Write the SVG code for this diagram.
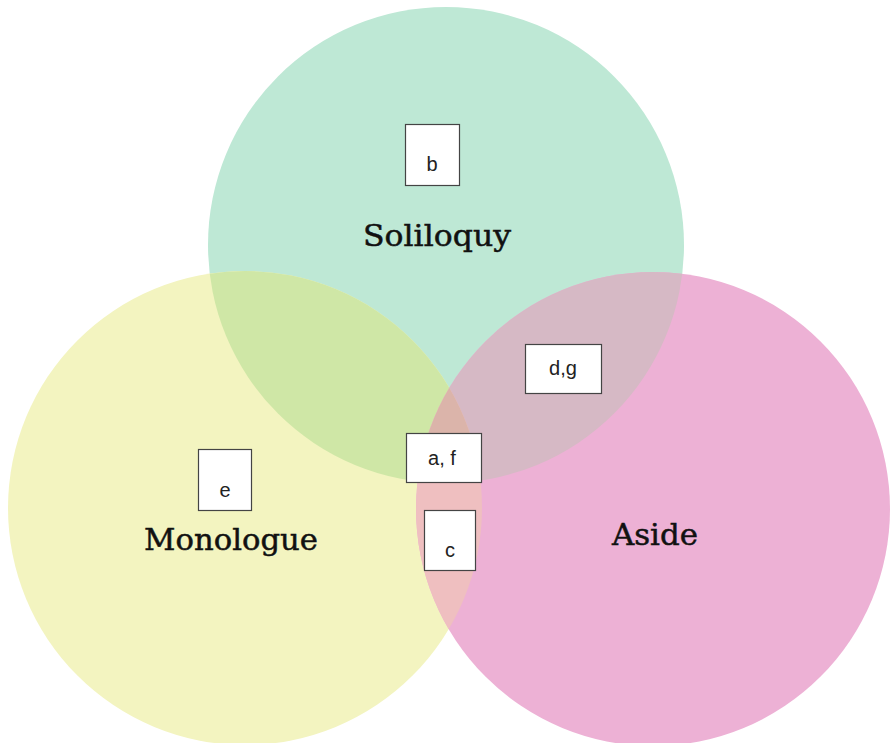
<svg xmlns="http://www.w3.org/2000/svg" width="890" height="743" viewBox="0 0 890 743">
<style>
.box{fill:#fff;stroke:#444;stroke-width:1.2}
.lbl{font-family:"Liberation Sans",Arial,sans-serif;font-size:20px;fill:#222;text-anchor:middle}
.set{font-family:"DejaVu Serif","Liberation Serif",serif;font-size:30px;fill:#111;stroke:#111;stroke-width:0.5}
</style>
<defs>
<clipPath id="cS"><circle cx="446" cy="245" r="238"/></clipPath>
<clipPath id="cM"><circle cx="245" cy="508" r="237"/></clipPath>
<clipPath id="cA"><circle cx="653" cy="509" r="237"/></clipPath>
</defs>
<rect width="890" height="743" fill="#fff"/>
<g id="sets">
<circle id="soliloquy-circle" cx="446" cy="245" r="238" fill="#bee8d5"/>
<circle id="monologue-circle" cx="245" cy="508" r="237" fill="#f3f4c0"/>
<circle id="aside-circle" cx="653" cy="509" r="237" fill="#edb1d5"/>
<g clip-path="url(#cS)"><circle cx="245" cy="508" r="237" fill="#cfe7a6"/></g>
<g clip-path="url(#cS)"><circle cx="653" cy="509" r="237" fill="#d6b9c5"/></g>
<g clip-path="url(#cM)"><circle cx="653" cy="509" r="237" fill="#efbfc0"/></g>
<g clip-path="url(#cS)"><g clip-path="url(#cM)"><circle cx="653" cy="509" r="237" fill="#dbb4aa"/></g></g>
</g>
<g id="set-labels">
<text class="set" x="363" y="246" textLength="148" lengthAdjust="spacingAndGlyphs">Soliloquy</text>
<text class="set" x="144" y="550" textLength="174" lengthAdjust="spacingAndGlyphs">Monologue</text>
<text class="set" x="612" y="545" textLength="86" lengthAdjust="spacingAndGlyphs">Aside</text>
</g>
<g id="connectors"></g>
<g id="node-b"><rect class="box" x="405.5" y="124.5" width="54" height="61"/><text class="lbl" x="432" y="171">b</text></g>
<g id="node-dg"><rect class="box" x="525.5" y="344.5" width="76" height="49"/><text class="lbl" x="563" y="375">d,g</text></g>
<g id="node-af"><rect class="box" x="406.5" y="433.5" width="75" height="49"/><text class="lbl" x="442" y="465">a, f</text></g>
<g id="node-c"><rect class="box" x="424.5" y="510.5" width="51" height="60"/><text class="lbl" x="450" y="557">c</text></g>
<g id="node-e"><rect class="box" x="198.5" y="449.5" width="53" height="61"/><text class="lbl" x="225" y="497">e</text></g>
</svg>
